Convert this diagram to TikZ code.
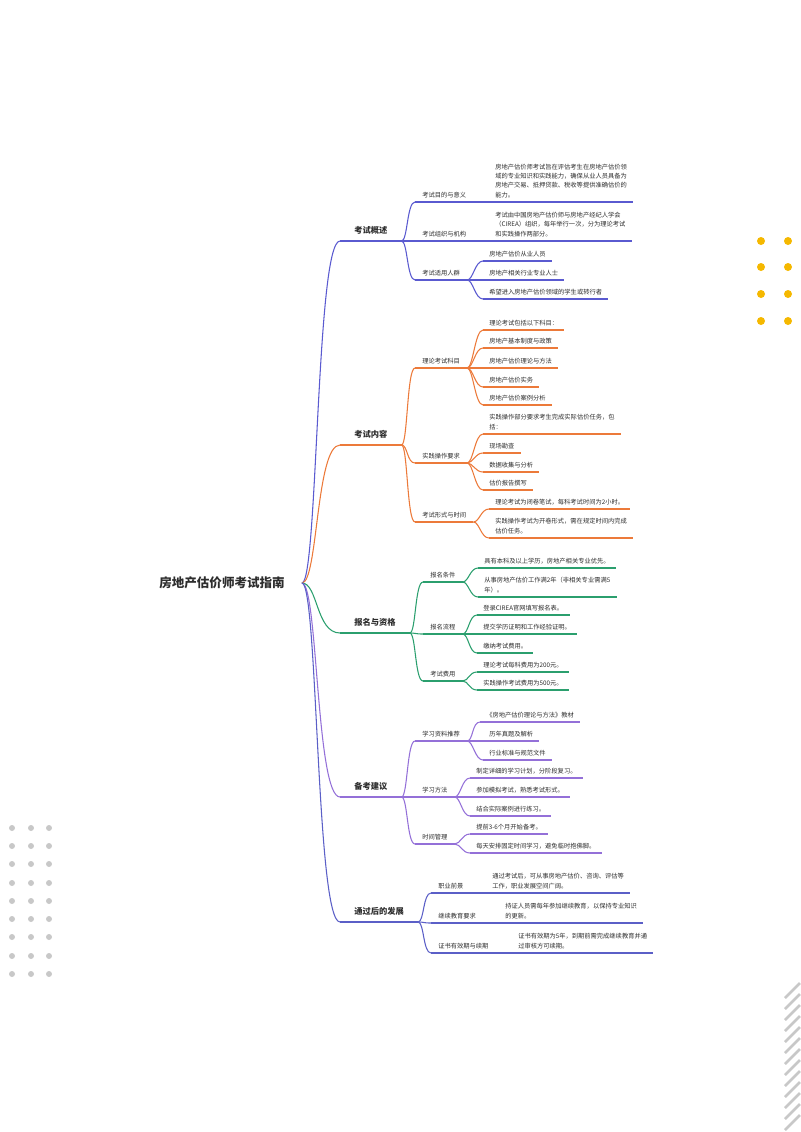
\documentclass[tikz,border=0pt]{standalone}
\usepackage{fontspec}
\setmainfont{Noto Sans CJK SC}
\definecolor{txt}{HTML}{2D2D2D}
\definecolor{cgs}{HTML}{5A5AD0}
\definecolor{cnr}{HTML}{EC7A3A}
\definecolor{cbm}{HTML}{2B9F6E}
\definecolor{cbk}{HTML}{9470D8}
\definecolor{cfz}{HTML}{5B5FC7}
\definecolor{dotyel}{HTML}{F5B800}
\definecolor{dotgry}{HTML}{C8C8C8}
\tikzset{
  root/.style={font=\fontsize{9.4}{11}\selectfont\bfseries, text=txt, inner xsep=12.75pt},
  lone/.style={anchor=south west, font=\fontsize{6.2}{7.5}\selectfont\bfseries, text=txt, inner xsep=10.5pt, inner ysep=4.5pt},
  ltwo/.style={anchor=south west, font=\fontsize{4.7}{7.1}\selectfont, text=txt, inner xsep=5.25pt, inner ysep=3pt},
  leaf/.style={anchor=south west, font=\fontsize{4.7}{7}\selectfont, text=txt, inner xsep=4.5pt, inner ysep=3pt, align=left},
  br/.style={line width=0.8pt},
}
\begin{document}
\begin{tikzpicture}[x=0.75pt, y=-0.75pt]
  \useasboundingbox (0,0) rectangle (800,1132);

  % decorations
  \foreach \x in {761,788}
    \foreach \y in {241,267,294,321}
      \fill[dotyel] (\x,\y) circle (3pt);
  \foreach \x in {12,31,49}
    \foreach \y in {828,846,864,883,901,919,937,956,974}
      \fill[dotgry] (\x,\y) circle (2.25pt);
  \foreach \y in {998,1009,...,1130}
    \draw[dotgry, line width=1.9pt] (785,\y) -- (800,\y-15);

  \node[root] (root) at (222,583) {房地产估价师考试指南};

  \node[lone] (gs) at (340,241) {考试概述};
  \node[lone] (nr) at (340,445) {考试内容};
  \node[lone] (bm) at (340,633) {报名与资格};
  \node[lone] (bk) at (340,797) {备考建议};
  \node[lone] (fz) at (340,922) {通过后的发展};

  % 考试概述
  \node[ltwo] (gs1) at (415,202) {考试目的与意义};
  \node[ltwo] (gs2) at (415,241) {考试组织与机构};
  \node[ltwo] (gs3) at (415,280) {考试适用人群};
  \node[leaf] (gs1a) at (489,202) {房地产估价师考试旨在评估考生在房地产估价领\\域的专业知识和实践能力，确保从业人员具备为\\房地产交易、抵押贷款、税收等提供准确估价的\\能力。};
  \node[leaf] (gs2a) at (489,241) {考试由中国房地产估价师与房地产经纪人学会\\（CIREA）组织，每年举行一次，分为理论考试\\和实践操作两部分。};
  \node[leaf] (gs3a) at (483,261) {房地产估价从业人员};
  \node[leaf] (gs3b) at (483,280) {房地产相关行业专业人士};
  \node[leaf] (gs3c) at (483,299) {希望进入房地产估价领域的学生或转行者};

  % 考试内容
  \node[ltwo] (nr1) at (415,368) {理论考试科目};
  \node[ltwo] (nr2) at (415,463) {实践操作要求};
  \node[ltwo] (nr3) at (415,522) {考试形式与时间};
  \node[leaf] (nr1a) at (483,330) {理论考试包括以下科目：};
  \node[leaf] (nr1b) at (483,348) {房地产基本制度与政策};
  \node[leaf] (nr1c) at (483,368) {房地产估价理论与方法};
  \node[leaf] (nr1d) at (483,387) {房地产估价实务};
  \node[leaf] (nr1e) at (483,405) {房地产估价案例分析};
  \node[leaf] (nr2a) at (483,434) {实践操作部分要求考生完成实际估价任务，包\\括：};
  \node[leaf] (nr2b) at (483,453) {现场勘查};
  \node[leaf] (nr2c) at (483,472) {数据收集与分析};
  \node[leaf] (nr2d) at (483,490) {估价报告撰写};
  \node[leaf] (nr3a) at (489,509) {理论考试为闭卷笔试，每科考试时间为2小时。};
  \node[leaf] (nr3b) at (489,538) {实践操作考试为开卷形式，需在规定时间内完成\\估价任务。};

  % 报名与资格
  \node[ltwo] (bm1) at (423,582) {报名条件};
  \node[ltwo] (bm2) at (423,634) {报名流程};
  \node[ltwo] (bm3) at (423,681) {考试费用};
  \node[leaf] (bm1a) at (478,568) {具有本科及以上学历，房地产相关专业优先。};
  \node[leaf] (bm1b) at (478,597) {从事房地产估价工作满2年（非相关专业需满5\\年）。};
  \node[leaf] (bm2a) at (477,615) {登录CIREA官网填写报名表。};
  \node[leaf] (bm2b) at (477,634) {提交学历证明和工作经验证明。};
  \node[leaf] (bm2c) at (477,653) {缴纳考试费用。};
  \node[leaf] (bm3a) at (477,672) {理论考试每科费用为200元。};
  \node[leaf] (bm3b) at (477,690) {实践操作考试费用为500元。};

  % 备考建议
  \node[ltwo] (bk1) at (415,741) {学习资料推荐};
  \node[ltwo] (bk2) at (415,797) {学习方法};
  \node[ltwo] (bk3) at (415,844) {时间管理};
  \node[leaf] (bk1a) at (480,722) {《房地产估价理论与方法》教材};
  \node[leaf] (bk1b) at (483,741) {历年真题及解析};
  \node[leaf] (bk1c) at (483,760) {行业标准与规范文件};
  \node[leaf] (bk2a) at (470,778) {制定详细的学习计划，分阶段复习。};
  \node[leaf] (bk2b) at (470,797) {参加模拟考试，熟悉考试形式。};
  \node[leaf] (bk2c) at (470,816) {结合实际案例进行练习。};
  \node[leaf] (bk3a) at (470,834) {提前3-6个月开始备考。};
  \node[leaf] (bk3b) at (470,853) {每天安排固定时间学习，避免临时抱佛脚。};

  % 通过后的发展
  \node[ltwo] (fz1) at (431,893) {职业前景};
  \node[ltwo] (fz2) at (431,923) {继续教育要求};
  \node[ltwo] (fz3) at (431,953) {证书有效期与续期};
  \node[leaf] (fz1a) at (486,893) {通过考试后，可从事房地产估价、咨询、评估等\\工作，职业发展空间广阔。};
  \node[leaf] (fz2a) at (499,923) {持证人员需每年参加继续教育，以保持专业知识\\的更新。};
  \node[leaf] (fz3a) at (512,953) {证书有效期为5年，到期前需完成继续教育并通\\过审核方可续期。};

  % connectors
  \foreach \b/\c in {gs/cgs,nr/cnr,bm/cbm,bk/cbk,fz/cfz}
    \draw[br,\c] (root.east) .. controls +(16,0) and +(-24,0) .. (\b.south west);

  \foreach \a/\b/\c in {gs/gs1/cgs,gs/gs2/cgs,gs/gs3/cgs,gs1/gs1a/cgs,gs2/gs2a/cgs,
      gs3/gs3a/cgs,gs3/gs3b/cgs,gs3/gs3c/cgs,
      nr/nr1/cnr,nr/nr2/cnr,nr/nr3/cnr,nr1/nr1a/cnr,nr1/nr1b/cnr,nr1/nr1c/cnr,
      nr1/nr1d/cnr,nr1/nr1e/cnr,nr2/nr2a/cnr,nr2/nr2b/cnr,nr2/nr2c/cnr,nr2/nr2d/cnr,
      nr3/nr3a/cnr,nr3/nr3b/cnr,
      bm/bm1/cbm,bm/bm2/cbm,bm/bm3/cbm,bm1/bm1a/cbm,bm1/bm1b/cbm,bm2/bm2a/cbm,
      bm2/bm2b/cbm,bm2/bm2c/cbm,bm3/bm3a/cbm,bm3/bm3b/cbm,
      bk/bk1/cbk,bk/bk2/cbk,bk/bk3/cbk,bk1/bk1a/cbk,bk1/bk1b/cbk,bk1/bk1c/cbk,
      bk2/bk2a/cbk,bk2/bk2b/cbk,bk2/bk2c/cbk,bk3/bk3a/cbk,bk3/bk3b/cbk,
      fz/fz1/cfz,fz/fz2/cfz,fz/fz3/cfz,fz1/fz1a/cfz,fz2/fz2a/cfz,fz3/fz3a/cfz}
    \draw[br,\c] (\a.south east) .. controls +(6,0) and +(-8,0) .. (\b.south west);

  \foreach \n/\c in {gs/cgs,gs1/cgs,gs2/cgs,gs3/cgs,gs1a/cgs,gs2a/cgs,gs3a/cgs,gs3b/cgs,gs3c/cgs,
      nr/cnr,nr1/cnr,nr2/cnr,nr3/cnr,nr1a/cnr,nr1b/cnr,nr1c/cnr,nr1d/cnr,nr1e/cnr,
      nr2a/cnr,nr2b/cnr,nr2c/cnr,nr2d/cnr,nr3a/cnr,nr3b/cnr,
      bm/cbm,bm1/cbm,bm2/cbm,bm3/cbm,bm1a/cbm,bm1b/cbm,bm2a/cbm,bm2b/cbm,bm2c/cbm,
      bm3a/cbm,bm3b/cbm,
      bk/cbk,bk1/cbk,bk2/cbk,bk3/cbk,bk1a/cbk,bk1b/cbk,bk1c/cbk,bk2a/cbk,bk2b/cbk,
      bk2c/cbk,bk3a/cbk,bk3b/cbk,
      fz/cfz,fz1/cfz,fz2/cfz,fz3/cfz,fz1a/cfz,fz2a/cfz,fz3a/cfz}
    \draw[br,\c] (\n.south west) -- (\n.south east);
\end{tikzpicture}
\end{document}
